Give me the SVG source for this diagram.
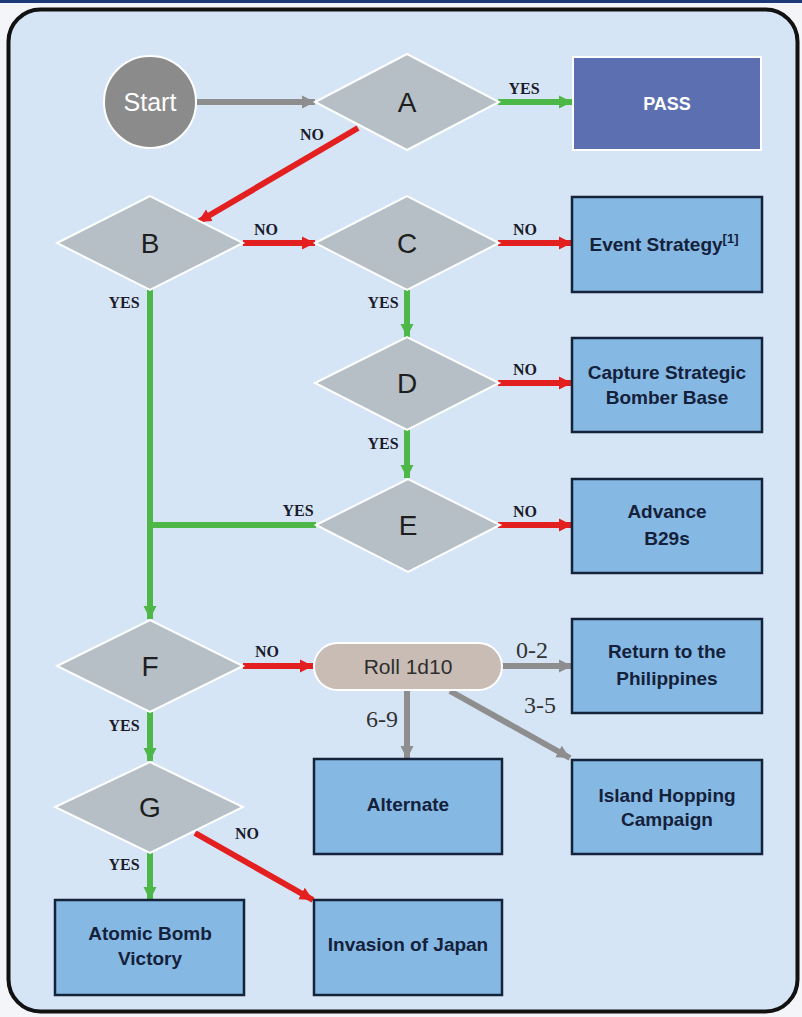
<svg xmlns="http://www.w3.org/2000/svg" width="802" height="1017" viewBox="0 0 802 1017">
  <style>
    .dia { fill: #b5bfc5; stroke: #ffffff; stroke-width: 2; }
    .box { fill: #86b8e4; stroke: #14233a; stroke-width: 2.5; }
    .letter { font-family: "Liberation Sans", Arial, sans-serif; font-size: 28px; fill: #1e1e1e; text-anchor: middle; }
    .btxt { font-family: "Liberation Sans", Arial, sans-serif; font-size: 19px; font-weight: bold; fill: #14213a; text-anchor: middle; }
    .lbl { font-family: "Liberation Serif", "Times New Roman", serif; font-size: 16px; font-weight: bold; fill: #1b1b2b; text-anchor: middle; }
    .num { font-family: "Liberation Serif", "Times New Roman", serif; font-size: 24px; fill: #333; text-anchor: middle; }
    .g { stroke: #4db848; stroke-width: 6; fill: none; }
    .r { stroke: #e3201f; stroke-width: 6; fill: none; }
    .k { stroke: #8e8e8e; stroke-width: 6; fill: none; }
  </style>
  <defs>
    <marker id="ag" viewBox="0 0 10 10" refX="10" refY="5" markerWidth="2.2" markerHeight="2.8" orient="auto" markerUnits="strokeWidth">
      <path d="M0,0 L10,5 L0,10 Z" fill="#4db848"/>
    </marker>
    <marker id="ar" viewBox="0 0 10 10" refX="10" refY="5" markerWidth="2.2" markerHeight="2.8" orient="auto" markerUnits="strokeWidth">
      <path d="M0,0 L10,5 L0,10 Z" fill="#e3201f"/>
    </marker>
    <marker id="ak" viewBox="0 0 10 10" refX="10" refY="5" markerWidth="2.2" markerHeight="2.8" orient="auto" markerUnits="strokeWidth">
      <path d="M0,0 L10,5 L0,10 Z" fill="#8e8e8e"/>
    </marker>
  </defs>

  <!-- page -->
  <rect x="0" y="0" width="802" height="1017" fill="#f4f5f8"/>
  <rect x="0" y="0" width="802" height="3" fill="#1d3a78"/>
  <rect x="8.5" y="9.5" width="789" height="1002" rx="32" fill="#d5e5f5" stroke="#121212" stroke-width="4"/>

  <!-- connectors -->
  <g id="connectors">
    <line class="k" x1="197" y1="102" x2="315" y2="102" marker-end="url(#ak)"/>
    <line class="g" x1="498" y1="102" x2="572" y2="102" marker-end="url(#ag)"/>
    <line class="r" x1="358" y1="128" x2="198" y2="222" marker-end="url(#ar)"/>
    <line class="r" x1="243" y1="243" x2="315" y2="243" marker-end="url(#ar)"/>
    <line class="r" x1="498" y1="243" x2="572" y2="243" marker-end="url(#ar)"/>
    <line class="g" x1="407" y1="290" x2="407" y2="337" marker-end="url(#ag)"/>
    <line class="r" x1="498" y1="383" x2="572" y2="383" marker-end="url(#ar)"/>
    <line class="g" x1="407" y1="430" x2="407" y2="478" marker-end="url(#ag)"/>
    <line class="r" x1="498" y1="525" x2="572" y2="525" marker-end="url(#ar)"/>
    <line class="g" x1="316" y1="525" x2="147" y2="525"/>
    <line class="g" x1="150" y1="290" x2="150" y2="619" marker-end="url(#ag)"/>
    <line class="r" x1="243" y1="666" x2="313" y2="666" marker-end="url(#ar)"/>
    <line class="k" x1="502" y1="666" x2="572" y2="666" marker-end="url(#ak)"/>
    <line class="k" x1="450" y1="691" x2="570" y2="758" marker-end="url(#ak)"/>
    <line class="k" x1="407" y1="690" x2="407" y2="759" marker-end="url(#ak)"/>
    <line class="g" x1="150" y1="712" x2="150" y2="761" marker-end="url(#ag)"/>
    <line class="g" x1="150" y1="853" x2="150" y2="900" marker-end="url(#ag)"/>
    <line class="r" x1="195" y1="833" x2="313" y2="900" marker-end="url(#ar)"/>

    <text class="lbl" x="524" y="94">YES</text>
    <text class="lbl" x="312" y="140">NO</text>
    <text class="lbl" x="266" y="235">NO</text>
    <text class="lbl" x="525" y="235">NO</text>
    <text class="lbl" x="383" y="308">YES</text>
    <text class="lbl" x="124" y="308">YES</text>
    <text class="lbl" x="525" y="375">NO</text>
    <text class="lbl" x="383" y="449">YES</text>
    <text class="lbl" x="298" y="516">YES</text>
    <text class="lbl" x="525" y="517">NO</text>
    <text class="lbl" x="267" y="657">NO</text>
    <text class="lbl" x="124" y="731">YES</text>
    <text class="lbl" x="124" y="870">YES</text>
    <text class="lbl" x="247" y="839">NO</text>
    <text class="num" x="532" y="658">0-2</text>
    <text class="num" x="540" y="713">3-5</text>
    <text class="num" x="382" y="727">6-9</text>
  </g>

  <!-- nodes -->
  <g id="start">
    <circle cx="150" cy="102" r="46" fill="#8b8b8c" stroke="#ffffff" stroke-width="2"/>
    <text x="150" y="111" font-family="Liberation Sans, Arial, sans-serif" font-size="25" fill="#ffffff" text-anchor="middle">Start</text>
  </g>
  <g id="nodeA">
    <polygon class="dia" points="315,102 407,54 499,102 407,150"/>
    <text class="letter" x="407" y="112">A</text>
  </g>
  <g id="pass">
    <rect x="573" y="57" width="188" height="93" fill="#5c70b1" stroke="#ffffff" stroke-width="2"/>
    <text x="667" y="110" font-family="Liberation Sans, Arial, sans-serif" font-size="18" font-weight="bold" fill="#ffffff" text-anchor="middle">PASS</text>
  </g>
  <g id="nodeB">
    <polygon class="dia" points="57,243 150,196 243,243 150,290"/>
    <text class="letter" x="150" y="253">B</text>
  </g>
  <g id="nodeC">
    <polygon class="dia" points="315,243 407,196 499,243 407,290"/>
    <text class="letter" x="407" y="253">C</text>
  </g>
  <g id="eventStrategy">
    <rect class="box" x="572" y="197" width="190" height="95"/>
    <text class="btxt" x="664" y="251">Event Strategy<tspan font-size="13" dy="-8">[1]</tspan></text>
  </g>
  <g id="nodeD">
    <polygon class="dia" points="315,383 407,337 499,383 407,430"/>
    <text class="letter" x="407" y="393">D</text>
  </g>
  <g id="captureBase">
    <rect class="box" x="572" y="338" width="190" height="94"/>
    <text class="btxt" x="667" y="379">Capture Strategic</text>
    <text class="btxt" x="667" y="404">Bomber Base</text>
  </g>
  <g id="nodeE">
    <polygon class="dia" points="316,525 408,479 500,525 408,572"/>
    <text class="letter" x="408" y="535">E</text>
  </g>
  <g id="advanceB29s">
    <rect class="box" x="572" y="479" width="190" height="94"/>
    <text class="btxt" x="667" y="518" font-size="22">Advance</text>
    <text class="btxt" x="667" y="545" font-size="22">B29s</text>
  </g>
  <g id="nodeF">
    <polygon class="dia" points="57,666 150,620 243,666 150,712"/>
    <text class="letter" x="150" y="676">F</text>
  </g>
  <g id="roll">
    <rect x="314" y="643" width="188" height="47" rx="23.5" fill="#c9bcb5" stroke="#ffffff" stroke-width="2"/>
    <text x="408" y="674" font-family="Liberation Sans, Arial, sans-serif" font-size="21" fill="#2e2e2e" text-anchor="middle">Roll 1d10</text>
  </g>
  <g id="returnPhilippines">
    <rect class="box" x="572" y="619" width="190" height="94"/>
    <text class="btxt" x="667" y="658">Return to the</text>
    <text class="btxt" x="667" y="685">Philippines</text>
  </g>
  <g id="nodeG">
    <polygon class="dia" points="55,807 150,762 243,807 150,853"/>
    <text class="letter" x="150" y="817">G</text>
  </g>
  <g id="alternate">
    <rect class="box" x="314" y="759" width="188" height="95"/>
    <text class="btxt" x="408" y="811">Alternate</text>
  </g>
  <g id="islandHopping">
    <rect class="box" x="572" y="760" width="190" height="94"/>
    <text class="btxt" x="667" y="802">Island Hopping</text>
    <text class="btxt" x="667" y="826">Campaign</text>
  </g>
  <g id="atomicBomb">
    <rect class="box" x="55" y="900" width="189" height="95"/>
    <text class="btxt" x="150" y="940">Atomic Bomb</text>
    <text class="btxt" x="150" y="965">Victory</text>
  </g>
  <g id="invasion">
    <rect class="box" x="314" y="900" width="188" height="95"/>
    <text class="btxt" x="408" y="951">Invasion of Japan</text>
  </g>
</svg>
